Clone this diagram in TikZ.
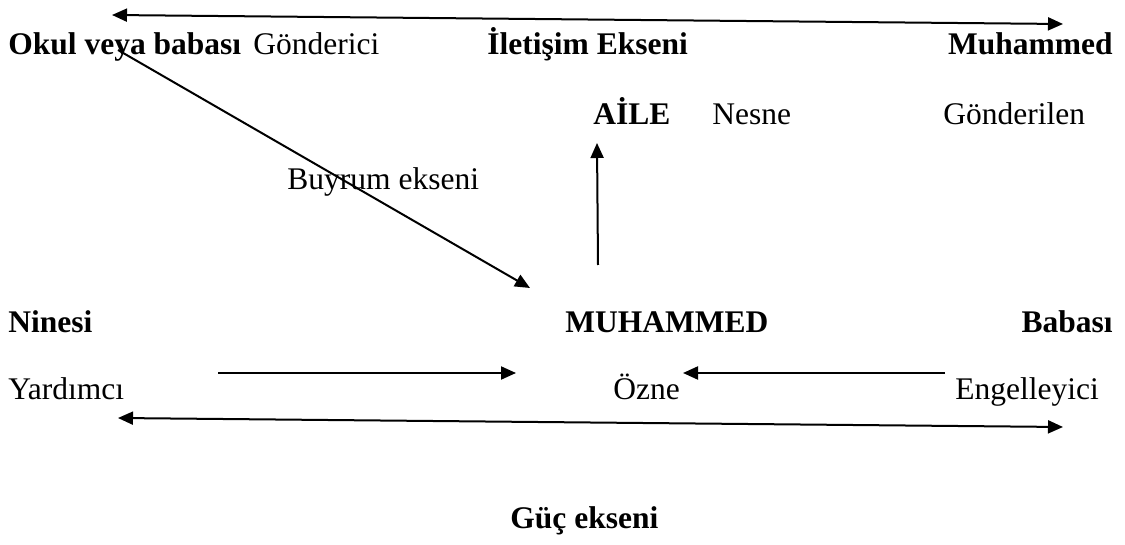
\documentclass[tikz,border=0pt]{standalone}
\usepackage{fontspec}
\setmainfont{Liberation Serif}
\usetikzlibrary{arrows.meta}
\begin{document}
\begin{tikzpicture}[x=0.5pt,y=-0.5pt,
  lbl/.style={anchor=base west,inner sep=0pt,font=\fontsize{15.75}{18}\selectfont},
  lblb/.style={lbl,font=\fontsize{15.75}{18}\selectfont\bfseries},
  arr/.style={line width=1pt,-{Triangle[length=7.5pt,width=6.5pt]}},
  dblarr/.style={line width=1pt,{Triangle[length=7.5pt,width=6.5pt]}-{Triangle[length=7.5pt,width=6.5pt]}}]
\useasboundingbox (0,0) rectangle (1125,545);

% communication axis row
\node[lblb] (okul) at (8,55) {Okul veya babası};
\node[lbl] (gonderici) at (253,55) {Gönderici};
\node[lblb] (iletisim) at (487,55) {İletişim Ekseni};
\node[lblb,anchor=base east] (muh) at (1113,55) {Muhammed};

% object row
\node[lblb] (aile) at (593,125) {AİLE};
\node[lbl] (nesne) at (712,125) {Nesne};
\node[lbl] (gonderilen) at (943,125) {Gönderilen};

\node[lbl] (buyrum) at (287,190) {Buyrum ekseni};

% subject row
\node[lblb] (ninesi) at (8,333) {Ninesi};
\node[lblb] (muhbig) at (565,333) {MUHAMMED};
\node[lblb,anchor=base east] (babasi) at (1113,333) {Babası};

\node[lbl] (yardimci) at (8,400) {Yardımcı};
\node[lbl] (ozne) at (613,400) {Özne};
\node[lbl] (engel) at (955,400) {Engelleyici};

\node[lblb] (guc) at (510,528) {Güç ekseni};

% arrow end points
\coordinate (topL) at (112,15);
\coordinate (topR) at (1063,24);
\coordinate (diagS) at (118,50);
\coordinate (diagE) at (530,288);
\coordinate (vertS) at (598,265);
\coordinate (vertE) at (597,143);
\coordinate (helpS) at (218,373);
\coordinate (helpE) at (516,373);
\coordinate (oppS) at (945,373);
\coordinate (oppE) at (683,373);
\coordinate (botL) at (118,418);
\coordinate (botR) at (1063,427);

% axes and relations
\draw[dblarr] (topL) -- (topR);
\draw[arr] (diagS) -- (diagE);
\draw[arr] (vertS) -- (vertE);
\draw[arr] (helpS) -- (helpE);
\draw[arr] (oppS) -- (oppE);
\draw[dblarr] (botL) -- (botR);
\end{tikzpicture}
\end{document}
